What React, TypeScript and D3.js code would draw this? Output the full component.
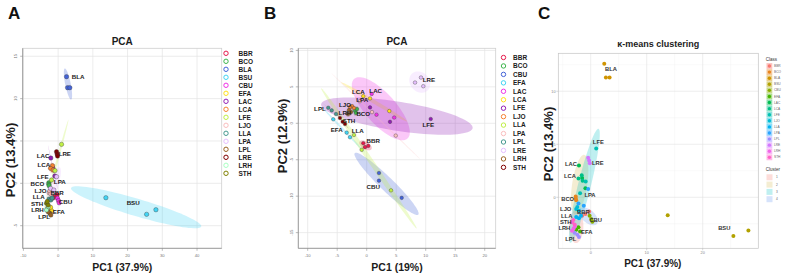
import React, {useEffect, useRef} from 'react';
import * as d3 from 'd3';

const FONT = "'Liberation Sans', Arial, Helvetica, sans-serif";

// accession codes in legend order
const accessions = ['BBR', 'BCO', 'BLA', 'BSU', 'CBU', 'EFA', 'LAC', 'LCA', 'LFE', 'LJO', 'LLA', 'LPA', 'LPL', 'LRE', 'LRH', 'STH'];

// PCA scores on all accessions, three replicates each
const pc1All = [
  [-0.95, -0.29, -1.53],
  [-2.68, -2.68, -2.59],
  [2.42, 2.71, 3.37],
  [13.75, 25.48, 28.16],
  [-0.2, 0.1, 0.3],
  [-2.59, -1.90, -2.19],
  [-2.10, -1.53, -0.95],
  [-1.61, -2.19, -1.44],
  [0.98, -1.90, -0.90],
  [-2.59, -2.39, -2.10],
  [-2.59, -2.10, -1.73],
  [-0.46, -2.19, -1.24],
  [-2.39, -2.10, -2.88],
  [-0.46, -0.29, -0.17],
  [-3.05, -3.34, -2.82],
  [-3.34, -2.88, -3.11],
];
const pc2All = [
  [-1.58, -1.35, -1.74],
  [0.07, -0.12, -0.28],
  [12.59, 11.29, 11.29],
  [-1.70, -3.66, -3.12],
  [-1.75, -2.05, -2.30],
  [-3.07, -3.23, -2.83],
  [2.99, 1.81, 0.86],
  [2.08, 1.77, 1.57],
  [4.60, 0.39, 1.50],
  [-1.11, -0.91, -1.26],
  [-1.85, -1.97, -1.74],
  [0.78, -0.59, -0.79],
  [-3.54, -3.74, -3.35],
  [3.73, 3.46, 3.22],
  [-2.95, -3.15, -2.74],
  [-2.36, -2.56, -2.15],
];
// where each accession name sits (score units)
const labelsAll: [number, number][] = [
  [-0.29, -1.18], [-5.94, -0.05], [5.76, 12.59], [21.61, -2.33], [2.13, -2.21], [0.2, -3.42],
  [-4.32, 3.22], [-4.12, 2.24], [-4.41, 0.78], [-5.07, -0.85], [-5.56, -1.62], [0.49, 0.19],
  [-4.03, -3.92], [1.93, 3.46], [-5.94, -3.15], [-6.05, -2.38],
];
const labelsKmeans: [number, number][] = [
  [-1.32, -1.39], [-4.11, -0.19], [3.63, 12.08], [23.86, -2.92], [0.89, -2.14], [-0.71, -3.25],
  [-3.52, 3.14], [-3.7, 2.01], [1.36, 5.25], [-4.46, -1.1], [-4.29, -1.73], [-0.13, 0.22],
  [-3.57, -3.95], [1.25, 3.21], [-4.71, -2.92], [-4.46, -2.3],
];
// k-means cluster of each accession (0 = no ellipse drawn)
const clusterOf = [4, 2, 0, 0, 4, 1, 2, 2, 3, 3, 1, 3, 1, 3, 1, 1];

// PCA without BLA and BSU
const accessionsSub = ['BBR', 'BCO', 'CBU', 'EFA', 'LAC', 'LCA', 'LFE', 'LJO', 'LLA', 'LPA', 'LPL', 'LRE', 'LRH', 'STH'];
const pc1Sub = [
  [-0.58, -0.29, 0.27],
  [-1.98, -1.81, -1.64],
  [2.08, 2.08, 5.93],
  [-5.66, -3.39, -2.83],
  [0.85, 1.66, 4.66],
  [-0.58, 0.56, 3.83],
  [0.56, 3.95, 10.85],
  [-2.49, -2.15, -2.83],
  [-2.15, -0.85, 4.12],
  [-1.14, 0.9, 4.92],
  [-6.51, -5.93, -5.2],
  [8.19, 9.2, 9.59],
  [-3.0, -2.66, -3.17],
  [-4.53, -4.07, -3.68],
];
const pc2Sub = [
  [-2.73, -3.27, -3.1],
  [1.72, 1.41, 1.95],
  [-6.82, -7.87, -10.23],
  [0.55, -1.28, -1.91],
  [4.03, 1.18, 0.79],
  [3.72, 3.41, 1.68],
  [2.18, 0.2, 0.59],
  [2.36, 2.09, 2.22],
  [-1.6, -3.64, -9.2],
  [3.04, 1.54, -1.69],
  [2.13, 1.77, 1.27],
  [5.59, 6.28, 5.09],
  [1.81, 1.54, 1.27],
  [0.72, 0.22, -0.1],
];
const labelsSub: [number, number][] = [
  [1.12, -2.37], [-0.58, 1.36], [1.12, -8.65], [-5.08, -0.91], [1.53, 4.45], [-1.42, 4.27], [10.44, -0.23],
  [-3.68, 2.5], [-1.53, -1.01], [-0.75, 3.18], [-7.92, 1.99], [10.56, 5.91], [-3.68, 1.45], [-3.0, 0.31],
];

const groupColors = ['#e6194B', '#3cb44b', '#4363d8', '#42d4f4', '#f032e6', '#ffe119', '#911eb4', '#f58231',
  '#bfef45', '#fabebe', '#469990', '#e6beff', '#9A6324', '#800000', '#aaffc3', '#808000'];
const hueColors = ['#F8766D', '#E8851E', '#D09400', '#B2A100', '#89AC00', '#45B500', '#00BC51', '#00C087',
  '#00C0B2', '#00BCD6', '#00B3F2', '#29A3FF', '#9C8DFF', '#D277FF', '#F166E8', '#FF61C7'];
const clusterColors = ['#F8766D', '#D4B84A', '#00BFC4', '#5B8FF0'];

type Scale = d3.ScaleLinear<number, number>;

// covariance ellipse around a group of scores
function ellipseRing(xs: number[], ys: number[], k: number, n = 90): [number, number][] {
  const m = xs.length;
  const mx = d3.mean(xs)!, my = d3.mean(ys)!;
  let sxx = 0, syy = 0, sxy = 0;
  for (let i = 0; i < m; i++) {
    const dx = xs[i] - mx, dy = ys[i] - my;
    sxx += dx * dx; syy += dy * dy; sxy += dx * dy;
  }
  sxx /= m - 1; syy /= m - 1; sxy /= m - 1;
  const tr = sxx + syy, det = sxx * syy - sxy * sxy;
  const disc = Math.sqrt(Math.max(tr * tr / 4 - det, 0));
  const l1 = tr / 2 + disc, l2 = Math.max(tr / 2 - disc, 0);
  const theta = Math.abs(sxy) < 1e-12 ? (sxx >= syy ? 0 : Math.PI / 2) : Math.atan2(l1 - sxx, sxy);
  const a = k * Math.sqrt(l1), b = k * Math.sqrt(l2);
  return d3.range(n).map(i => {
    const t = (2 * Math.PI * i) / n;
    const u = a * Math.cos(t), v = b * Math.sin(t);
    return [mx + u * Math.cos(theta) - v * Math.sin(theta), my + u * Math.sin(theta) + v * Math.cos(theta)] as [number, number];
  });
}

function ringPath(ring: [number, number][], x: Scale, y: Scale) {
  return d3.line<[number, number]>().x(d => x(d[0])).y(d => y(d[1])).curve(d3.curveLinearClosed)(ring) || '';
}

interface BaseCfg {
  left: number; right: number; top: number; bottom: number;
  xDomain: [number, number]; yDomain: [number, number];
  xTicks: number[]; yTicks: number[];
  names: string[]; pc1: number[][]; pc2: number[][]; labels: [number, number][];
  title: string; xTitle: string; yTitle: string; yTitleX: number; yTitleY: number;
  legendX: number; legendTextX: number; legendY0: number; legendStep: number; pointR: number;
}

// score plot in the base-graphics look
function drawBase(svg: d3.Selection<SVGSVGElement, unknown, null, undefined>, c: BaseCfg) {
  const x = d3.scaleLinear().domain(c.xDomain).range([c.left, c.right]);
  const y = d3.scaleLinear().domain(c.yDomain).range([c.bottom, c.top]);
  const g = svg.append('g');
  const k95 = Math.sqrt(-2 * Math.log(0.05));

  g.selectAll(null).data(c.xTicks).join('line')
    .attr('x1', d => x(d)).attr('x2', d => x(d)).attr('y1', c.top).attr('y2', c.bottom)
    .attr('stroke', '#e4e4e4').attr('stroke-width', 0.7);
  g.selectAll(null).data(c.yTicks).join('line')
    .attr('x1', c.left).attr('x2', c.right).attr('y1', d => y(d)).attr('y2', d => y(d))
    .attr('stroke', '#e4e4e4').attr('stroke-width', 0.7);

  g.append('g').selectAll('path').data(c.names).join('path')
    .attr('d', (_, i) => ringPath(ellipseRing(c.pc1[i], c.pc2[i], k95), x, y))
    .attr('fill', (_, i) => groupColors[i]).attr('fill-opacity', 0.27).attr('stroke', 'none');

  const pts = c.names.flatMap((_, i) => c.pc1[i].map((v, j) => ({i, px: v, py: c.pc2[i][j]})));
  g.append('g').selectAll('circle').data(pts).join('circle')
    .attr('cx', d => x(d.px)).attr('cy', d => y(d.py)).attr('r', c.pointR)
    .attr('fill', d => groupColors[d.i]).attr('stroke', '#3a3a3a').attr('stroke-opacity', 0.75).attr('stroke-width', 0.5);

  g.append('g').selectAll('text').data(c.names).join('text')
    .attr('x', (_, i) => x(c.labels[i][0])).attr('y', (_, i) => y(c.labels[i][1]))
    .attr('dy', '0.35em').attr('text-anchor', 'middle')
    .attr('font-size', 6.2).attr('font-weight', 'bold').attr('fill', '#1c1c1c').text(d => d);

  g.append('rect').attr('x', c.left).attr('y', c.top).attr('width', c.right - c.left).attr('height', c.bottom - c.top)
    .attr('fill', 'none').attr('stroke', '#cfcfcf').attr('stroke-width', 0.8);
  g.append('line').attr('x1', c.left).attr('x2', c.left).attr('y1', c.top).attr('y2', c.bottom).attr('stroke', '#8f8f8f').attr('stroke-width', 0.8);
  g.append('line').attr('x1', c.left).attr('x2', c.right).attr('y1', c.bottom).attr('y2', c.bottom).attr('stroke', '#8f8f8f').attr('stroke-width', 0.8);

  g.selectAll(null).data(c.xTicks).join('line')
    .attr('x1', d => x(d)).attr('x2', d => x(d)).attr('y1', c.bottom).attr('y2', c.bottom + 2.5)
    .attr('stroke', '#8f8f8f').attr('stroke-width', 0.6);
  g.selectAll(null).data(c.yTicks).join('line')
    .attr('x1', c.left - 2.5).attr('x2', c.left).attr('y1', d => y(d)).attr('y2', d => y(d))
    .attr('stroke', '#8f8f8f').attr('stroke-width', 0.6);
  g.selectAll(null).data(c.xTicks).join('text')
    .attr('x', d => x(d)).attr('y', c.bottom + 8.5).attr('text-anchor', 'middle')
    .attr('font-size', 4.2).attr('fill', '#777').text(d => String(d));
  g.selectAll(null).data(c.yTicks).join('text')
    .attr('transform', d => `translate(${c.left - 5.5},${y(d)}) rotate(-90)`).attr('text-anchor', 'middle')
    .attr('font-size', 4.2).attr('fill', '#777').text(d => String(d));

  g.append('text').attr('x', (c.left + c.right) / 2).attr('y', 45).attr('text-anchor', 'middle')
    .attr('font-size', 10).attr('font-weight', 'bold').attr('fill', '#1c1c1c').text(c.title);
  g.append('text').attr('x', (c.left + c.right) / 2).attr('y', 270.5).attr('text-anchor', 'middle')
    .attr('font-size', 10.5).attr('font-weight', 'bold').attr('fill', '#1c1c1c').text(c.xTitle);
  g.append('text').attr('transform', `translate(${c.yTitleX},${c.yTitleY}) rotate(-90)`)
    .attr('text-anchor', 'middle').attr('dy', '0.35em')
    .attr('font-size', 13).attr('font-weight', 'bold').attr('fill', '#1c1c1c').text(c.yTitle);

  const leg = g.append('g');
  leg.selectAll('circle').data(c.names).join('circle')
    .attr('cx', c.legendX).attr('cy', (_, i) => c.legendY0 + i * c.legendStep).attr('r', 2.2)
    .attr('fill', 'none').attr('stroke', (_, i) => groupColors[i]).attr('stroke-width', 1);
  leg.selectAll('text').data(c.names).join('text')
    .attr('x', c.legendTextX).attr('y', (_, i) => c.legendY0 + i * c.legendStep).attr('dy', '0.35em')
    .attr('font-size', 6.5).attr('font-weight', 'bold').attr('fill', '#1c1c1c').text(d => d);
}

// k-means panel in the ggplot look
function drawKmeans(svg: d3.Selection<SVGSVGElement, unknown, null, undefined>) {
  const left = 558.3, right = 758.3, top = 53.3, bottom = 248.3;
  const x = d3.scaleLinear().domain([-5.79, 29.93]).range([left, right]);
  const y = d3.scaleLinear().domain([-4.81, 13.58]).range([bottom, top]);
  const g = svg.append('g');

  const minorX = [-5, 5, 15, 25], majorX = [0, 10, 20];
  const minorY = [-2.5, 2.5, 7.5, 12.5], majorY = [0, 5, 10];
  g.selectAll(null).data(minorX).join('line').attr('x1', d => x(d)).attr('x2', d => x(d)).attr('y1', top).attr('y2', bottom)
    .attr('stroke', '#efefef').attr('stroke-width', 0.4);
  g.selectAll(null).data(minorY).join('line').attr('x1', left).attr('x2', right).attr('y1', d => y(d)).attr('y2', d => y(d))
    .attr('stroke', '#efefef').attr('stroke-width', 0.4);
  g.selectAll(null).data(majorX).join('line').attr('x1', d => x(d)).attr('x2', d => x(d)).attr('y1', top).attr('y2', bottom)
    .attr('stroke', '#e2e2e2').attr('stroke-width', 0.6);
  g.selectAll(null).data(majorY).join('line').attr('x1', left).attr('x2', right).attr('y1', d => y(d)).attr('y2', d => y(d))
    .attr('stroke', '#e2e2e2').attr('stroke-width', 0.6);

  [1, 2, 3, 4].forEach(cl => {
    const members = accessions.map((_, i) => i).filter(i => clusterOf[i] === cl);
    const xs = members.flatMap(i => pc1All[i]);
    const ys = members.flatMap(i => pc2All[i]);
    g.append('path').attr('d', ringPath(ellipseRing(xs, ys, 2.5), x, y))
      .attr('fill', clusterColors[cl - 1]).attr('fill-opacity', 0.25).attr('stroke', 'none');
  });

  const pts = accessions.flatMap((_, i) => pc1All[i].map((v, j) => ({i, px: v, py: pc2All[i][j]})));
  g.append('g').selectAll('circle').data(pts).join('circle')
    .attr('cx', d => x(d.px)).attr('cy', d => y(d.py)).attr('r', 2)
    .attr('fill', d => hueColors[d.i]);

  g.append('g').selectAll('text').data(accessions).join('text')
    .attr('x', (_, i) => x(labelsKmeans[i][0])).attr('y', (_, i) => y(labelsKmeans[i][1]))
    .attr('dy', '0.35em').attr('text-anchor', 'middle')
    .attr('font-size', 5.8).attr('font-weight', 'bold').attr('fill', '#333').text(d => d);

  g.append('rect').attr('x', left).attr('y', top).attr('width', right - left).attr('height', bottom - top)
    .attr('fill', 'none').attr('stroke', '#c4c4c4').attr('stroke-width', 0.7);
  g.selectAll(null).data(majorX).join('line').attr('x1', d => x(d)).attr('x2', d => x(d)).attr('y1', bottom).attr('y2', bottom + 2)
    .attr('stroke', '#b3b3b3').attr('stroke-width', 0.5);
  g.selectAll(null).data(majorY).join('line').attr('x1', left - 2).attr('x2', left).attr('y1', d => y(d)).attr('y2', d => y(d))
    .attr('stroke', '#b3b3b3').attr('stroke-width', 0.5);
  g.selectAll(null).data(majorX).join('text').attr('x', d => x(d)).attr('y', bottom + 5.5).attr('text-anchor', 'middle')
    .attr('font-size', 3.8).attr('fill', '#888').text(d => String(d));
  g.selectAll(null).data(majorY).join('text').attr('x', left - 2.8).attr('y', d => y(d)).attr('dy', '0.35em')
    .attr('text-anchor', 'end').attr('font-size', 3.8).attr('fill', '#888').text(d => String(d));

  g.append('text').attr('x', (left + right) / 2).attr('y', 47).attr('text-anchor', 'middle')
    .attr('font-size', 9).attr('font-weight', 'bold').attr('fill', '#1c1c1c').text('κ-means clustering');
  g.append('text').attr('x', 652.8).attr('y', 266.5).attr('text-anchor', 'middle')
    .attr('font-size', 10).attr('font-weight', 'bold').attr('fill', '#1c1c1c').text('PC1 (37.9%)');
  g.append('text').attr('transform', 'translate(548.3,144) rotate(-90)').attr('text-anchor', 'middle').attr('dy', '0.35em')
    .attr('font-size', 13).attr('font-weight', 'bold').attr('fill', '#1c1c1c').text('PC2 (13.4%)');

  // legends
  const lg = g.append('g');
  lg.append('text').attr('x', 765.8).attr('y', 59.5).attr('dy', '0.35em').attr('font-size', 4.5).attr('fill', '#333').text('Class');
  const cls = lg.selectAll('g.cls').data(accessions).join('g').attr('class', 'cls')
    .attr('transform', (_, i) => `translate(766.5,${66 + i * 6.09})`);
  cls.append('rect').attr('x', 0).attr('y', -2.9).attr('width', 5.8).attr('height', 5.8)
    .attr('fill', (_, i) => hueColors[i]).attr('fill-opacity', 0.45);
  cls.append('circle').attr('cx', 2.9).attr('cy', 0).attr('r', 1.7).attr('fill', (_, i) => hueColors[i]);
  cls.append('text').attr('x', 7.5).attr('y', 0).attr('dy', '0.35em').attr('font-size', 3.2).attr('fill', '#666').text(d => d);

  lg.append('text').attr('x', 765.8).attr('y', 169.5).attr('dy', '0.35em').attr('font-size', 4.5).attr('fill', '#333').text('Cluster');
  const clk = lg.selectAll('g.clk').data([1, 2, 3, 4]).join('g').attr('class', 'clk')
    .attr('transform', (_, i) => `translate(766.5,${177.3 + i * 7.3})`);
  clk.append('rect').attr('x', 0).attr('y', -3).attr('width', 6).attr('height', 6)
    .attr('fill', (_, i) => clusterColors[i]).attr('fill-opacity', 0.25);
  clk.append('text').attr('x', 9.5).attr('y', 0).attr('dy', '0.35em').attr('font-size', 3.2).attr('fill', '#666').text(d => String(d));
}

const App: React.FC = () => {
  const ref = useRef<SVGSVGElement>(null);

  useEffect(() => {
    const svg = d3.select(ref.current!);
    svg.selectAll('*').remove();

    drawBase(svg, {
      left: 22.7, right: 221.7, top: 48.3, bottom: 248.3,
      xDomain: [-10.2, 47.1], yDomain: [-7.67, 15.94],
      xTicks: [-10, 0, 10, 20, 30, 40], yTicks: [-5, 0, 5, 10, 15],
      names: accessions, pc1: pc1All, pc2: pc2All, labels: labelsAll,
      title: 'PCA', xTitle: 'PC1 (37.9%)', yTitle: 'PC2 (13.4%)', yTitleX: 10, yTitleY: 160,
      legendX: 226, legendTextX: 238.5, legendY0: 53.3, legendStep: 8, pointR: 2.2,
    });
    drawBase(svg, {
      left: 298.3, right: 495.7, top: 48.3, bottom: 248.3,
      xDomain: [-11.59, 21.86], yDomain: [-17.15, 10.29],
      xTicks: [-10, -5, 0, 5, 10, 15, 20], yTicks: [-15, -10, -5, 0, 5, 10],
      names: accessionsSub, pc1: pc1Sub, pc2: pc2Sub, labels: labelsSub,
      title: 'PCA', xTitle: 'PC1 (19%)', yTitle: 'PC2 (12.9%)', yTitleX: 282, yTitleY: 136,
      legendX: 503.5, legendTextX: 513, legendY0: 57.5, legendStep: 8.45, pointR: 1.8,
    });
    drawKmeans(svg);

    svg.selectAll(null).data([['A', 8], ['B', 264], ['C', 538]]).join('text')
      .attr('x', d => d[1] as number).attr('y', 19).attr('font-size', 17).attr('font-weight', 'bold')
      .attr('fill', '#111').text(d => d[0] as string);
  }, []);

  return (
    <svg ref={ref} width={787} height={275} viewBox="0 0 787 275"
      style={{position: 'absolute', left: 0, top: 0, background: '#fff', fontFamily: FONT}}/>
  );
};

export default App;
